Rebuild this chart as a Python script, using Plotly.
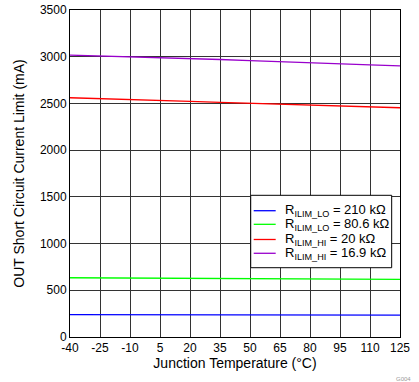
import plotly.graph_objects as go

temps = [-40, -25, -10, 5, 20, 35, 50, 65, 80, 95, 110, 125]
x_ticks = ["-40", "-25", "-10", "5", "20", "35", "50", "65", "80", "95", "110", "125"]
y_vals = [0, 500, 1000, 1500, 2000, 2500, 3000, 3500]
r16_9 = [3018, 3010, 3000, 2990, 2980, 2970, 2958, 2945, 2933, 2922, 2912, 2902]
r20 = [2561, 2553, 2543, 2533, 2522, 2512, 2502, 2492, 2481, 2471, 2463, 2454]
r80_6 = [634, 632, 630, 629, 628, 627, 626, 622, 620, 619, 618, 617]
r210 = [240, 240, 240, 239, 239, 238, 235, 235, 234, 234, 234, 234]

series = [
    ("R<sub>ILIM_LO</sub> = 210 kΩ", r210, "#0000ff"),
    ("R<sub>ILIM_LO</sub> = 80.6 kΩ", r80_6, "#00ff00"),
    ("R<sub>ILIM_HI</sub> = 20 kΩ", r20, "#ff0000"),
    ("R<sub>ILIM_HI</sub> = 16.9 kΩ", r16_9, "#9900cc"),
]

fig = go.Figure()
for name, vals, col in series:
    fig.add_trace(go.Scatter(x=temps, y=vals, mode="lines", name=name,
                             line=dict(color=col, width=1.3)))

font = dict(family="Liberation Sans, Arial, sans-serif", size=12, color="black")
fig.update_layout(
    width=419, height=382,
    margin=dict(l=70, r=19, t=10, b=45),
    paper_bgcolor="white", plot_bgcolor="white",
    font=font,
    showlegend=False,
    xaxis=dict(range=[-40, 125], tickmode="array", tickvals=temps, ticktext=x_ticks,
               showgrid=True, gridcolor="#333333", gridwidth=1,
               showline=True, linecolor="black", mirror=True,
               ticks="", zeroline=False, automargin=False, ticklabeloverflow="allow",
               title=dict(text="Junction Temperature (°C)", standoff=2)),
    yaxis=dict(range=[0, 3500], tickmode="array", tickvals=y_vals,
               ticktext=[str(v) for v in y_vals],
               showgrid=True, gridcolor="#333333", gridwidth=1,
               showline=True, linecolor="black", mirror=True,
               ticks="", zeroline=False, automargin=False, ticklabeloverflow="allow",
               title=dict(text="OUT Short Circuit Current Limit (mA)", standoff=11)),
)

# Legend box drawn in paper coordinates
fig.add_shape(type="rect", xref="paper", yref="paper",
              x0=0.5476, x1=0.9748, y0=0.2119, y1=0.4333,
              fillcolor="white", line=dict(color="black", width=1), layer="above")
row_y = [0.3862, 0.3446, 0.2982, 0.2560]
for (name, _, col), yy in zip(series, row_y):
    fig.add_shape(type="line", xref="paper", yref="paper",
                  x0=0.5567, x1=0.6233, y0=yy, y1=yy,
                  line=dict(color=col, width=1.3), layer="above")
    fig.add_annotation(text=name, xref="paper", yref="paper", x=0.6445, y=yy,
                       xanchor="left", yanchor="middle", showarrow=False,
                       font=dict(size=13, color="black"))

fig.add_annotation(text="G004", xref="paper", yref="paper", x=1.04, y=-0.112,
                   xanchor="right", yanchor="top", showarrow=False,
                   font=dict(size=6, color="#999999"))
fig.write_html("out.html", config={"displayModeBar": False},
               post_script="document.body.style.margin='0';document.body.style.overflow='hidden';")
